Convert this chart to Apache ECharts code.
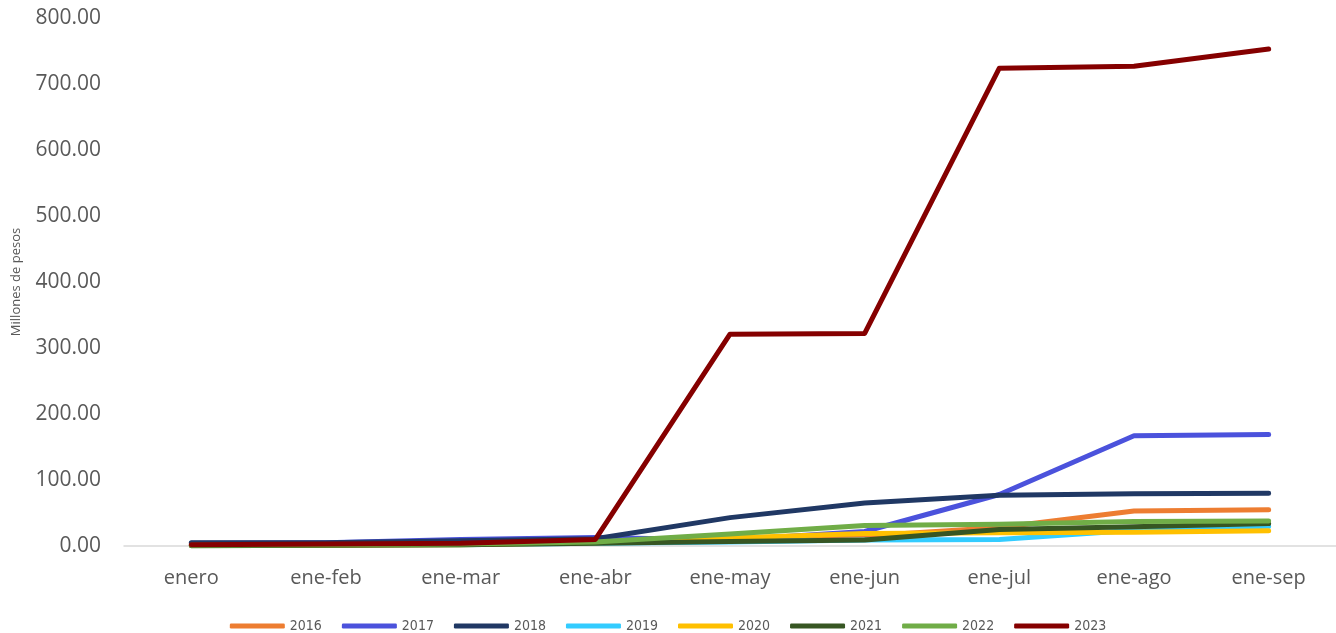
<!DOCTYPE html>
<html><head><meta charset="utf-8">
<script src="https://cdn.jsdelivr.net/npm/echarts@6/dist/echarts.min.js"></script>
<style>html,body{margin:0;padding:0;background:#fff}#c{width:1336px;height:633px}</style>
</head><body><div id="c"></div>
<script>
const categories = ['enero','ene-feb','ene-mar','ene-abr','ene-may','ene-jun','ene-jul','ene-ago','ene-sep'];
const s2016 = [1, 2, 3, 5, 8, 15, 28, 53, 55];
const s2017 = [4, 5, 10, 13, 9, 22, 78, 167, 169];
const s2018 = [5, 5, 8, 11, 43, 65, 77, 79, 80];
const s2019 = [0.5, 1, 2, 4, 6, 9, 10, 24, 30];
const s2020 = [0.5, 1, 2, 5, 12, 19, 20, 21, 23];
const s2021 = [0.5, 1, 2, 4, 7, 9, 25, 29, 34];
const s2022 = [1, 2, 3, 6, 18, 31, 33, 37, 38];
const s2023 = [2, 3, 4, 10, 321, 322, 724, 727, 753];
const seriesNames = ['2016','2017','2018','2019','2020','2021','2022','2023'];
const seriesData = [s2016, s2017, s2018, s2019, s2020, s2021, s2022, s2023];
const colors = ['#ED7D31','#4B52DC','#203864','#33CCFF','#FFC000','#375623','#70AD47','#850000'];

const chart = echarts.init(document.getElementById('c'), null, {renderer:'canvas'});
chart.setOption({
  animation: false,
  color: colors,
  grid: {left: 124, width: 1219, top: 18, bottom: 87, containLabel: false},
  legend: {
    top: 614, left: 'center',
    icon: 'roundRect', itemWidth: 55, itemHeight: 5, itemGap: 20,
    textStyle: {color: '#595959', fontSize: 14, fontFamily: 'Liberation Sans Narrow, DejaVu Sans Condensed, sans-serif'},
    data: seriesNames
  },
  xAxis: {
    type: 'category', data: categories, boundaryGap: true,
    axisLine: {lineStyle: {color: '#D9D9D9', width: 1.5}},
    axisTick: {show: false},
    axisLabel: {color: '#595959', fontSize: 20, margin: 22, fontFamily: 'Open Sans, sans-serif'},
    splitLine: {show: false}
  },
  yAxis: {
    type: 'value', min: 0, max: 800, interval: 100,
    name: 'Millones de pesos', nameLocation: 'middle', nameGap: 101, nameRotate: 90,
    nameTextStyle: {color: '#595959', fontSize: 13, fontFamily: 'Open Sans, sans-serif'},
    axisLine: {show: false}, axisTick: {show: false}, splitLine: {show: false},
    axisLabel: {color: '#595959', fontSize: 21, margin: 23, fontFamily: 'Open Sans, sans-serif',
      formatter: v => v.toFixed(2)}
  },
  series: seriesNames.map((n, i) => ({
    name: n, type: 'line', data: seriesData[i], symbol: 'none',
    lineStyle: {width: 5, cap: 'round', join: 'round'}, z: 2 + i
  }))
});
</script></body></html>
